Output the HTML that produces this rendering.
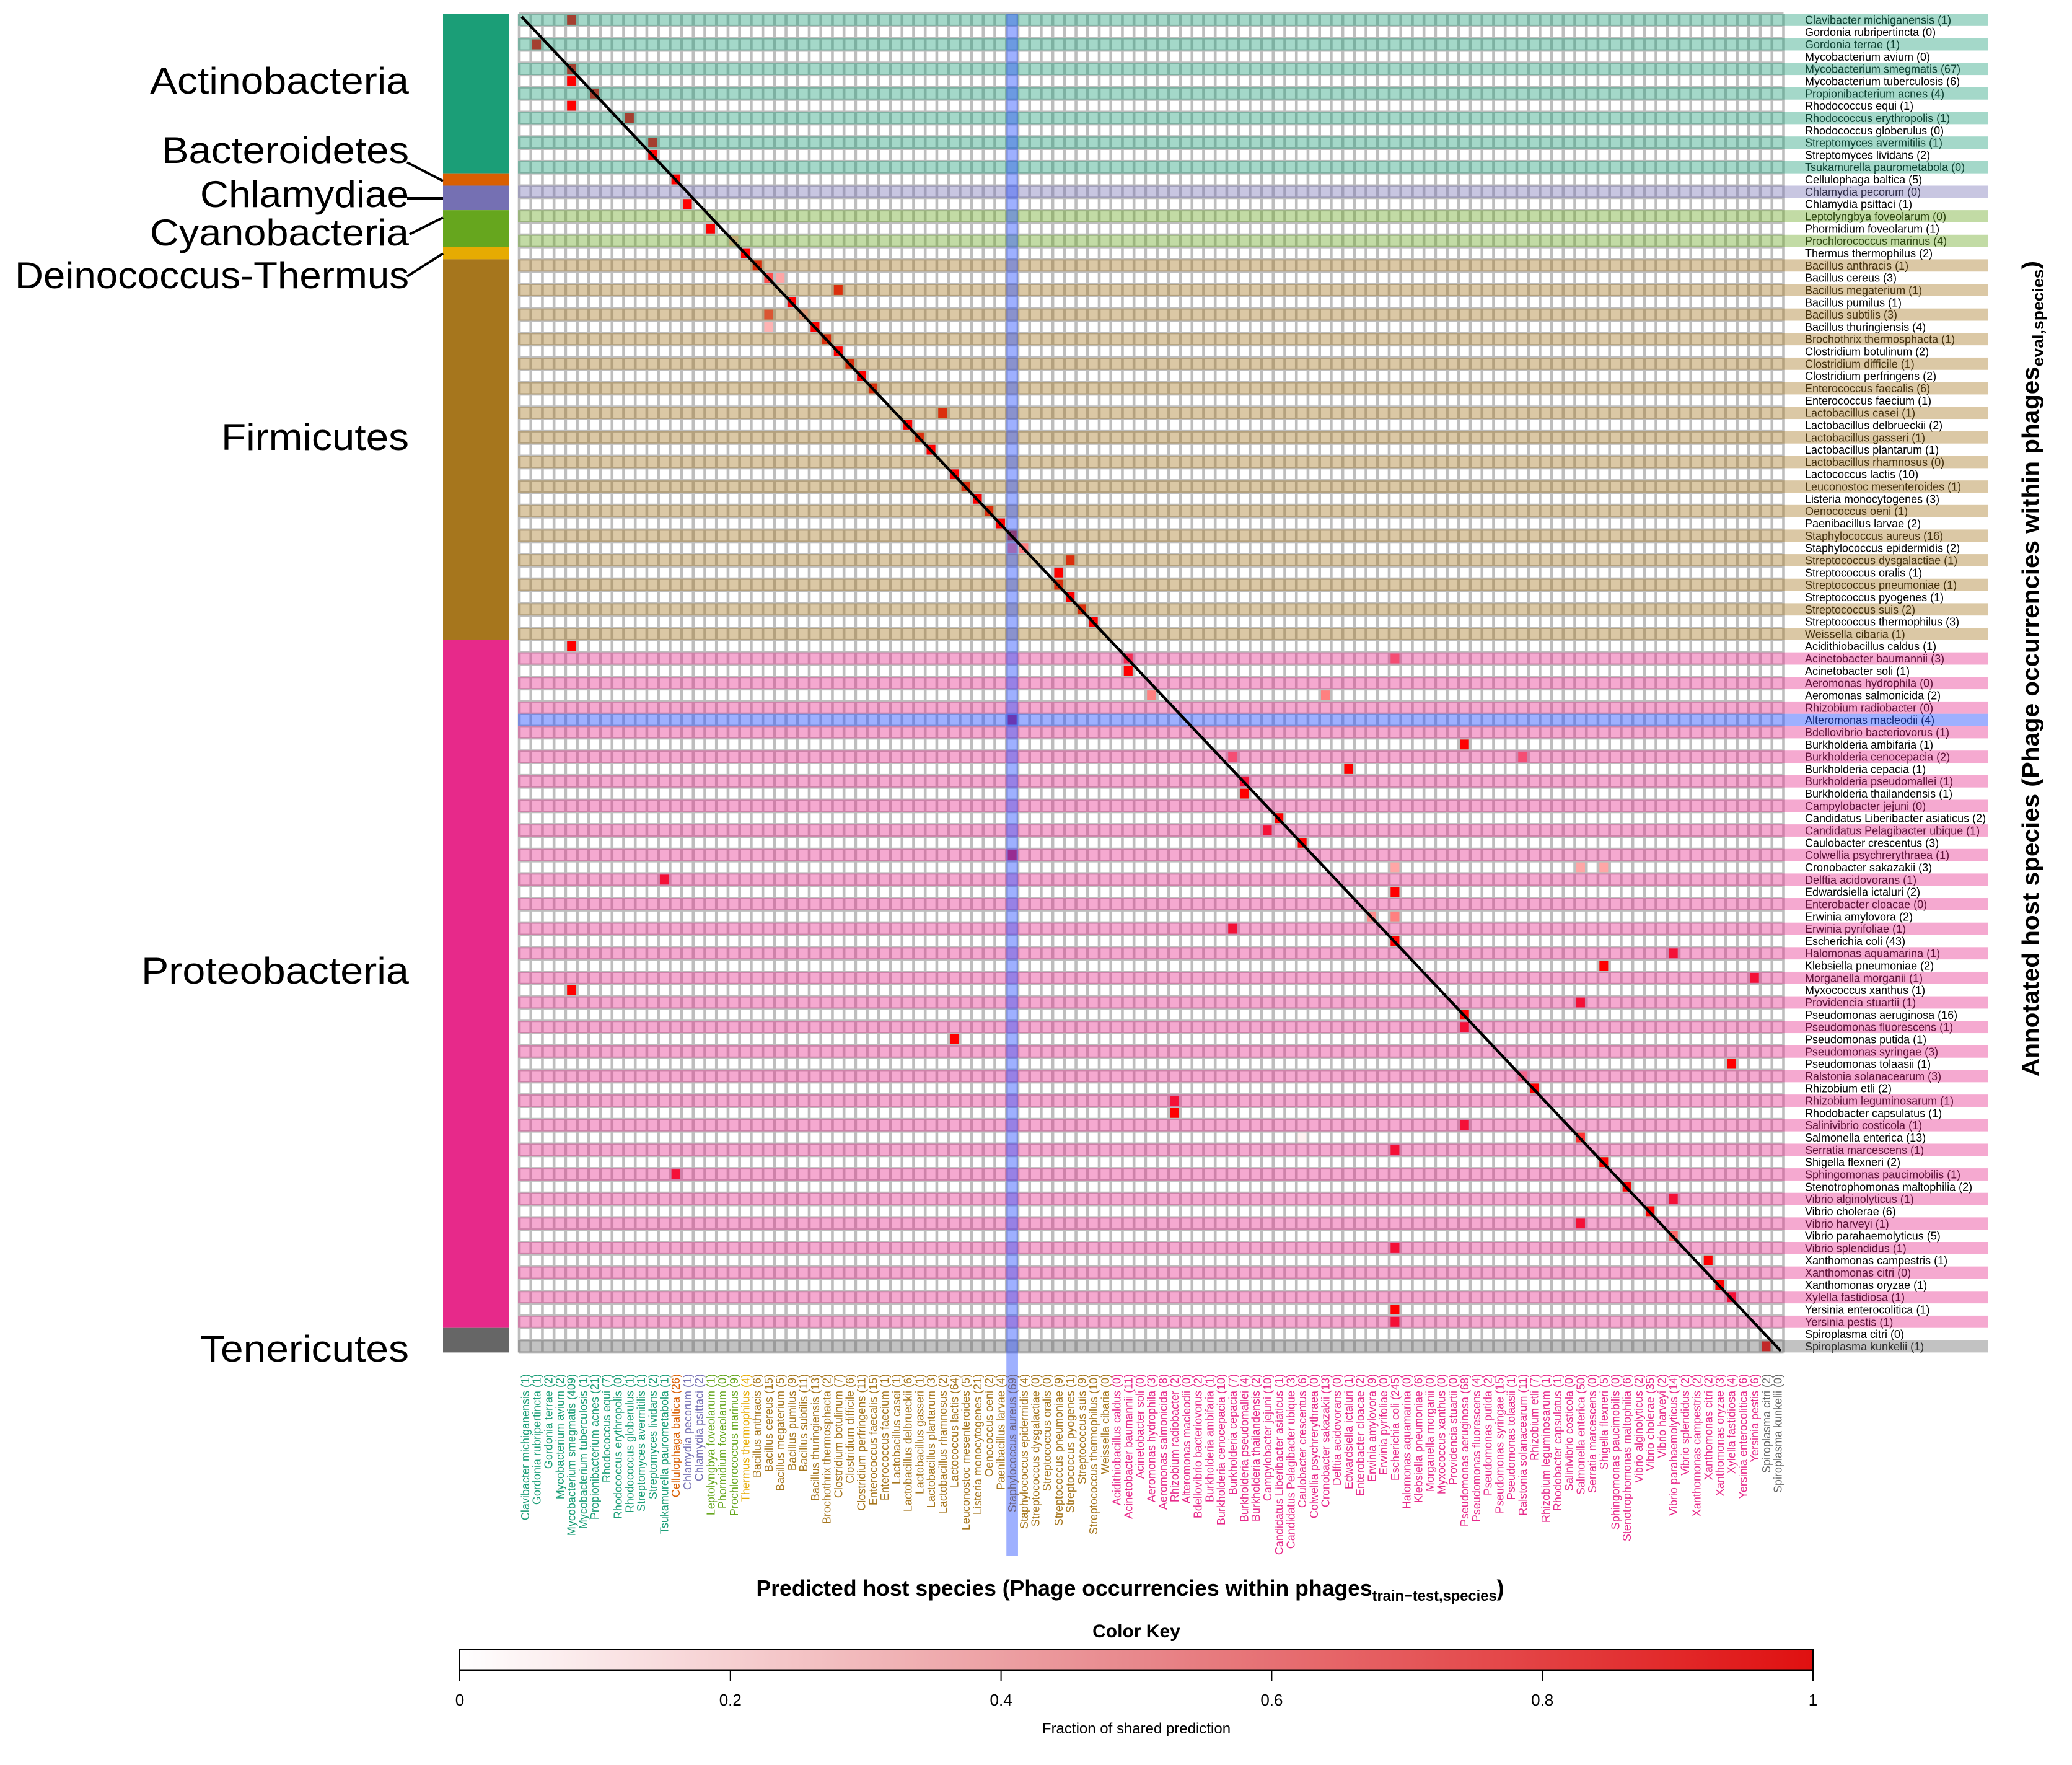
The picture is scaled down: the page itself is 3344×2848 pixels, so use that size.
<!DOCTYPE html>
<html><head><meta charset="utf-8"><title>Host prediction heatmap</title>
<style>html,body{margin:0;padding:0;background:#fff}svg{display:block}text{font-family:"Liberation Sans",Arial,sans-serif}</style>
</head><body>
<svg id="chart" xmlns="http://www.w3.org/2000/svg" width="3344" height="2848" viewBox="0 0 3344 2848">
<rect x="0" y="0" width="3344" height="2848" fill="#ffffff"/>
<g id="g-heat"></g>
<g id="g-phylum"></g>
<g id="g-rowlabels"></g>
<g id="g-overlay"></g>
<g id="g-collabels"></g>
<g id="g-highlight"></g>
<g id="g-key"></g>
<text x="1824" y="2575" text-anchor="middle" font-size="36" font-weight="bold" textLength="1207" lengthAdjust="spacingAndGlyphs">Predicted host species (Phage occurrencies within phages<tspan font-size="24" dy="8">train−test,species</tspan><tspan dy="-8">)</tspan></text>
<text transform="translate(3290,1079) rotate(-90)" text-anchor="middle" font-size="38" font-weight="bold" textLength="1316" lengthAdjust="spacingAndGlyphs">Annotated host species (Phage occurrencies within phages<tspan font-size="25" dy="8">eval,species</tspan><tspan dy="-8">)</tspan></text>
</svg>
<script>
const speciesNames = ["Clavibacter michiganensis","Gordonia rubripertincta","Gordonia terrae","Mycobacterium avium","Mycobacterium smegmatis","Mycobacterium tuberculosis","Propionibacterium acnes","Rhodococcus equi","Rhodococcus erythropolis","Rhodococcus globerulus","Streptomyces avermitilis","Streptomyces lividans","Tsukamurella paurometabola","Cellulophaga baltica","Chlamydia pecorum","Chlamydia psittaci","Leptolyngbya foveolarum","Phormidium foveolarum","Prochlorococcus marinus","Thermus thermophilus","Bacillus anthracis","Bacillus cereus","Bacillus megaterium","Bacillus pumilus","Bacillus subtilis","Bacillus thuringiensis","Brochothrix thermosphacta","Clostridium botulinum","Clostridium difficile","Clostridium perfringens","Enterococcus faecalis","Enterococcus faecium","Lactobacillus casei","Lactobacillus delbrueckii","Lactobacillus gasseri","Lactobacillus plantarum","Lactobacillus rhamnosus","Lactococcus lactis","Leuconostoc mesenteroides","Listeria monocytogenes","Oenococcus oeni","Paenibacillus larvae","Staphylococcus aureus","Staphylococcus epidermidis","Streptococcus dysgalactiae","Streptococcus oralis","Streptococcus pneumoniae","Streptococcus pyogenes","Streptococcus suis","Streptococcus thermophilus","Weissella cibaria","Acidithiobacillus caldus","Acinetobacter baumannii","Acinetobacter soli","Aeromonas hydrophila","Aeromonas salmonicida","Rhizobium radiobacter","Alteromonas macleodii","Bdellovibrio bacteriovorus","Burkholderia ambifaria","Burkholderia cenocepacia","Burkholderia cepacia","Burkholderia pseudomallei","Burkholderia thailandensis","Campylobacter jejuni","Candidatus Liberibacter asiaticus","Candidatus Pelagibacter ubique","Caulobacter crescentus","Colwellia psychrerythraea","Cronobacter sakazakii","Delftia acidovorans","Edwardsiella ictaluri","Enterobacter cloacae","Erwinia amylovora","Erwinia pyrifoliae","Escherichia coli","Halomonas aquamarina","Klebsiella pneumoniae","Morganella morganii","Myxococcus xanthus","Providencia stuartii","Pseudomonas aeruginosa","Pseudomonas fluorescens","Pseudomonas putida","Pseudomonas syringae","Pseudomonas tolaasii","Ralstonia solanacearum","Rhizobium etli","Rhizobium leguminosarum","Rhodobacter capsulatus","Salinivibrio costicola","Salmonella enterica","Serratia marcescens","Shigella flexneri","Sphingomonas paucimobilis","Stenotrophomonas maltophilia","Vibrio alginolyticus","Vibrio cholerae","Vibrio harveyi","Vibrio parahaemolyticus","Vibrio splendidus","Xanthomonas campestris","Xanthomonas citri","Xanthomonas oryzae","Xylella fastidiosa","Yersinia enterocolitica","Yersinia pestis","Spiroplasma citri","Spiroplasma kunkelii"];
const evalCounts = [1,0,1,0,67,6,4,1,1,0,1,2,0,5,0,1,0,1,4,2,1,3,1,1,3,4,1,2,1,2,6,1,1,2,1,1,0,10,1,3,1,2,16,2,1,1,1,1,2,3,1,1,3,1,0,2,0,4,1,1,2,1,1,1,0,2,1,3,1,3,1,2,0,2,1,43,1,2,1,1,1,16,1,1,3,1,3,2,1,1,1,13,1,2,1,2,1,6,1,5,1,1,0,1,1,1,1,0,1];
const trainCounts = [1,1,2,2,409,1,21,7,0,1,1,2,1,26,1,2,1,0,9,4,6,15,5,9,11,13,2,7,6,11,15,1,1,6,1,3,2,64,5,21,2,4,69,4,0,0,9,1,9,10,0,0,11,0,3,8,2,0,2,1,10,7,4,2,10,1,3,6,0,13,0,1,2,9,0,245,0,6,0,0,0,68,4,2,15,1,11,7,1,1,0,50,0,5,0,6,2,35,2,14,2,2,2,3,4,6,6,2,0];
const phylumNames = ["Actinobacteria","Bacteroidetes","Chlamydiae","Cyanobacteria","Deinococcus-Thermus","Firmicutes","Proteobacteria","Tenericutes"];
const phylumStart = [0,13,14,16,19,20,51,107];
const phylumEnd = [12,13,15,18,19,50,106,108];
const phylumColors = ["#1b9e77","#d95f02","#7570b3","#66a61e","#e6ab02","#a6761d","#e7298a","#666666"];
const cellRow = [0,2,4,5,6,7,8,10,11,13,15,17,18,19,20,21,21,22,23,24,24,25,25,26,27,28,29,30,32,33,34,35,37,38,39,40,41,42,43,43,44,45,46,47,48,49,51,52,52,53,55,55,57,59,60,60,61,62,63,65,66,67,68,69,69,69,70,71,73,73,74,75,76,77,78,79,80,81,82,83,85,86,87,88,89,90,91,91,92,93,94,95,96,97,98,99,100,101,103,104,105,106,108];
const cellCol = [4,1,4,4,6,4,9,11,11,13,14,16,18,19,20,21,22,27,23,21,24,21,25,26,27,28,29,30,36,33,34,35,37,38,39,40,41,42,42,43,47,46,46,47,48,49,4,52,75,52,54,69,42,81,61,86,71,62,62,65,64,67,42,75,91,93,12,75,73,75,61,75,99,93,106,4,91,81,81,37,104,86,87,56,56,81,91,67,75,93,13,95,99,97,91,99,75,102,103,104,75,75,107];
const cellVal = [1,1,1,1,1,1,1,1,1,1,1,1,0.3,1,1,0.7,0.35,1,1,0.75,0.3,0.3,1,1,1,1,1,1,1,1,1,1,1,1,1,1,1,1,0.5,0.5,1,1,1,1,1,1,1,0.8,0.6,1,0.5,0.5,1,1,0.6,0.6,1,1,1,1,1,1,1,0.35,0.35,0.35,1,1,0.45,0.5,1,1,1,1,1,1,1,1,1,1,1,0.45,1,1,1,1,0.8,0.05,1,1,1,1,1,1,1,0.6,1,1,1,1,1,1,1];
const highlightCol = 42;
const highlightRow = 57;

const NS = "http://www.w3.org/2000/svg";
const X0 = 838, Y0 = 22, CW = 18.72, RH = 19.82, N = speciesNames.length;
const xOf = c => X0 + c * CW;
const yOf = r => Y0 + r * RH;
function mk(tag, attrs, parent) {
  const e = document.createElementNS(NS, tag);
  for (const k in attrs) e.setAttribute(k, attrs[k]);
  parent.appendChild(e);
  return e;
}
function phylumOf(i) { for (let p = 0; p < phylumStart.length; p++) if (i >= phylumStart[p] && i <= phylumEnd[p]) return p; return 0; }
function heat(v) { const g = Math.round(255 * (1 - v)); return "rgb(255," + g + "," + g + ")"; }

const gHeat = document.getElementById("g-heat");
const bg = mk("rect", {x: X0, y: Y0, width: N * CW, height: N * RH, fill: "#ffffff"}, gHeat);


for (let k = 0; k < cellRow.length; k++) {
  const r = mk("rect", {x: xOf(cellCol[k]), y: yOf(cellRow[k]), width: CW, height: RH, fill: heat(cellVal[k])}, gHeat);
  
  
}
for (let k = 0; k <= N; k++) {
  const l = mk("line", {x1: xOf(k), x2: xOf(k), y1: Y0, y2: yOf(N), stroke: "#bebebe", "stroke-width": 4.6}, gHeat);
  
  
  const h = mk("line", {x1: X0, x2: xOf(N), y1: yOf(k), y2: yOf(k), stroke: "#bebebe", "stroke-width": 4}, gHeat);
  
  
}

const gP = document.getElementById("g-phylum");
const labelY = [151, 263, 334, 396, 465, 726, 1587, 2197];
const labelW = [418, 399, 337, 418, 636, 303, 432, 337];
for (let p = 0; p < phylumNames.length; p++) {
  const r = mk("rect", {x: 715, y: yOf(phylumStart[p]), width: 106, height: (phylumEnd[p] - phylumStart[p] + 1) * RH, fill: phylumColors[p]}, gP);
  
  
  const t = mk("text", {x: 660, y: labelY[p], "text-anchor": "end", "font-size": 60, textLength: labelW[p], lengthAdjust: "spacingAndGlyphs", fill: "#000"}, gP);
  t.textContent = phylumNames[p];
  
  
}
const connectors = [[657,262,715,292],[657,320,715,320],[661,378,715,351],[657,446,715,409]];
connectors.forEach(c => {
  const l = mk("line", {x1: c[0], y1: c[1], x2: c[2], y2: c[3], stroke: "#000", "stroke-width": 4}, gP);
  
  
});

const gR = document.getElementById("g-rowlabels");
for (let i = 0; i < N; i++) {
  const t = mk("text", {x: 2913, y: yOf(i) + RH / 2, dy: "0.36em", "font-size": 18, fill: "#000"}, gR);
  t.textContent = speciesNames[i] + " (" + evalCounts[i] + ")";
  
  
}

const gO = document.getElementById("g-overlay");
for (let i = 0; i < N; i++) {
  if (i === highlightRow) continue;
  if (i % 2 === 0) {
    const r = mk("rect", {x: X0 - 2, y: yOf(i), width: 3209 - X0 + 2, height: RH, fill: phylumColors[phylumOf(i)], "fill-opacity": 0.4}, gO);
    
    
  }
}

const gC = document.getElementById("g-collabels");
for (let c = 0; c < N; c++) {
  const cx = xOf(c) + CW / 2;
  const t = mk("text", {transform: "translate(" + cx + ",2217) rotate(-90)", dy: "0.36em", "text-anchor": "end", "font-size": 18, fill: phylumColors[phylumOf(c)]}, gC);
  t.textContent = speciesNames[c] + " (" + trainCounts[c] + ")";
  
  
}

const gH = document.getElementById("g-highlight");
const hc = mk("rect", {x: xOf(highlightCol), y: Y0, width: CW, height: 2510 - Y0, fill: "rgb(40,80,255)", "fill-opacity": 0.45}, gH);


const hr = mk("rect", {x: X0 - 2, y: yOf(highlightRow), width: 3209 - X0 + 2, height: RH, fill: "rgb(40,80,255)", "fill-opacity": 0.45}, gH);


const diag = mk("line", {x1: 842, y1: 27, x2: 2874, y2: 2180, stroke: "#000", "stroke-width": 4.5}, gH);



const gK = document.getElementById("g-key");
const keyTicks = [0, 0.2, 0.4, 0.6, 0.8, 1];
const keyTickLabels = ["0", "0.2", "0.4", "0.6", "0.8", "1"];
const KX0 = 742, KX1 = 2926;
const defs = mk("defs", {}, gK);
const grad = mk("linearGradient", {id: "keygrad", x1: "0", x2: "1", y1: "0", y2: "0"}, defs);
mk("stop", {offset: "0", "stop-color": "#ffffff"}, grad);
mk("stop", {offset: "0.5", "stop-color": "#e8888c"}, grad);
mk("stop", {offset: "1", "stop-color": "#e01010"}, grad);
const kt = mk("text", {x: (KX0 + KX1) / 2, y: 2642, "text-anchor": "middle", "font-size": 30, "font-weight": "bold"}, gK);
kt.textContent = "Color Key";


const kb = mk("rect", {x: KX0, y: 2662, width: KX1 - KX0, height: 33, fill: "url(#keygrad)", stroke: "#000", "stroke-width": 2}, gK);


const kl = mk("line", {x1: KX0, x2: KX1, y1: 2695, y2: 2695, stroke: "#000", "stroke-width": 3}, gK);


keyTicks.forEach((v, i) => {
  const x = KX0 + v * (KX1 - KX0);
  const tk = mk("line", {x1: x, x2: x, y1: 2695, y2: 2712, stroke: "#000", "stroke-width": 2}, gK);
  
  
  const tl = mk("text", {x: x, y: 2752, "text-anchor": "middle", "font-size": 26}, gK);
  tl.textContent = keyTickLabels[i];
  
  
});
const kx = mk("text", {x: (KX0 + KX1) / 2, y: 2797, "text-anchor": "middle", "font-size": 24}, gK);
kx.textContent = "Fraction of shared prediction";


</script>
</body></html>
